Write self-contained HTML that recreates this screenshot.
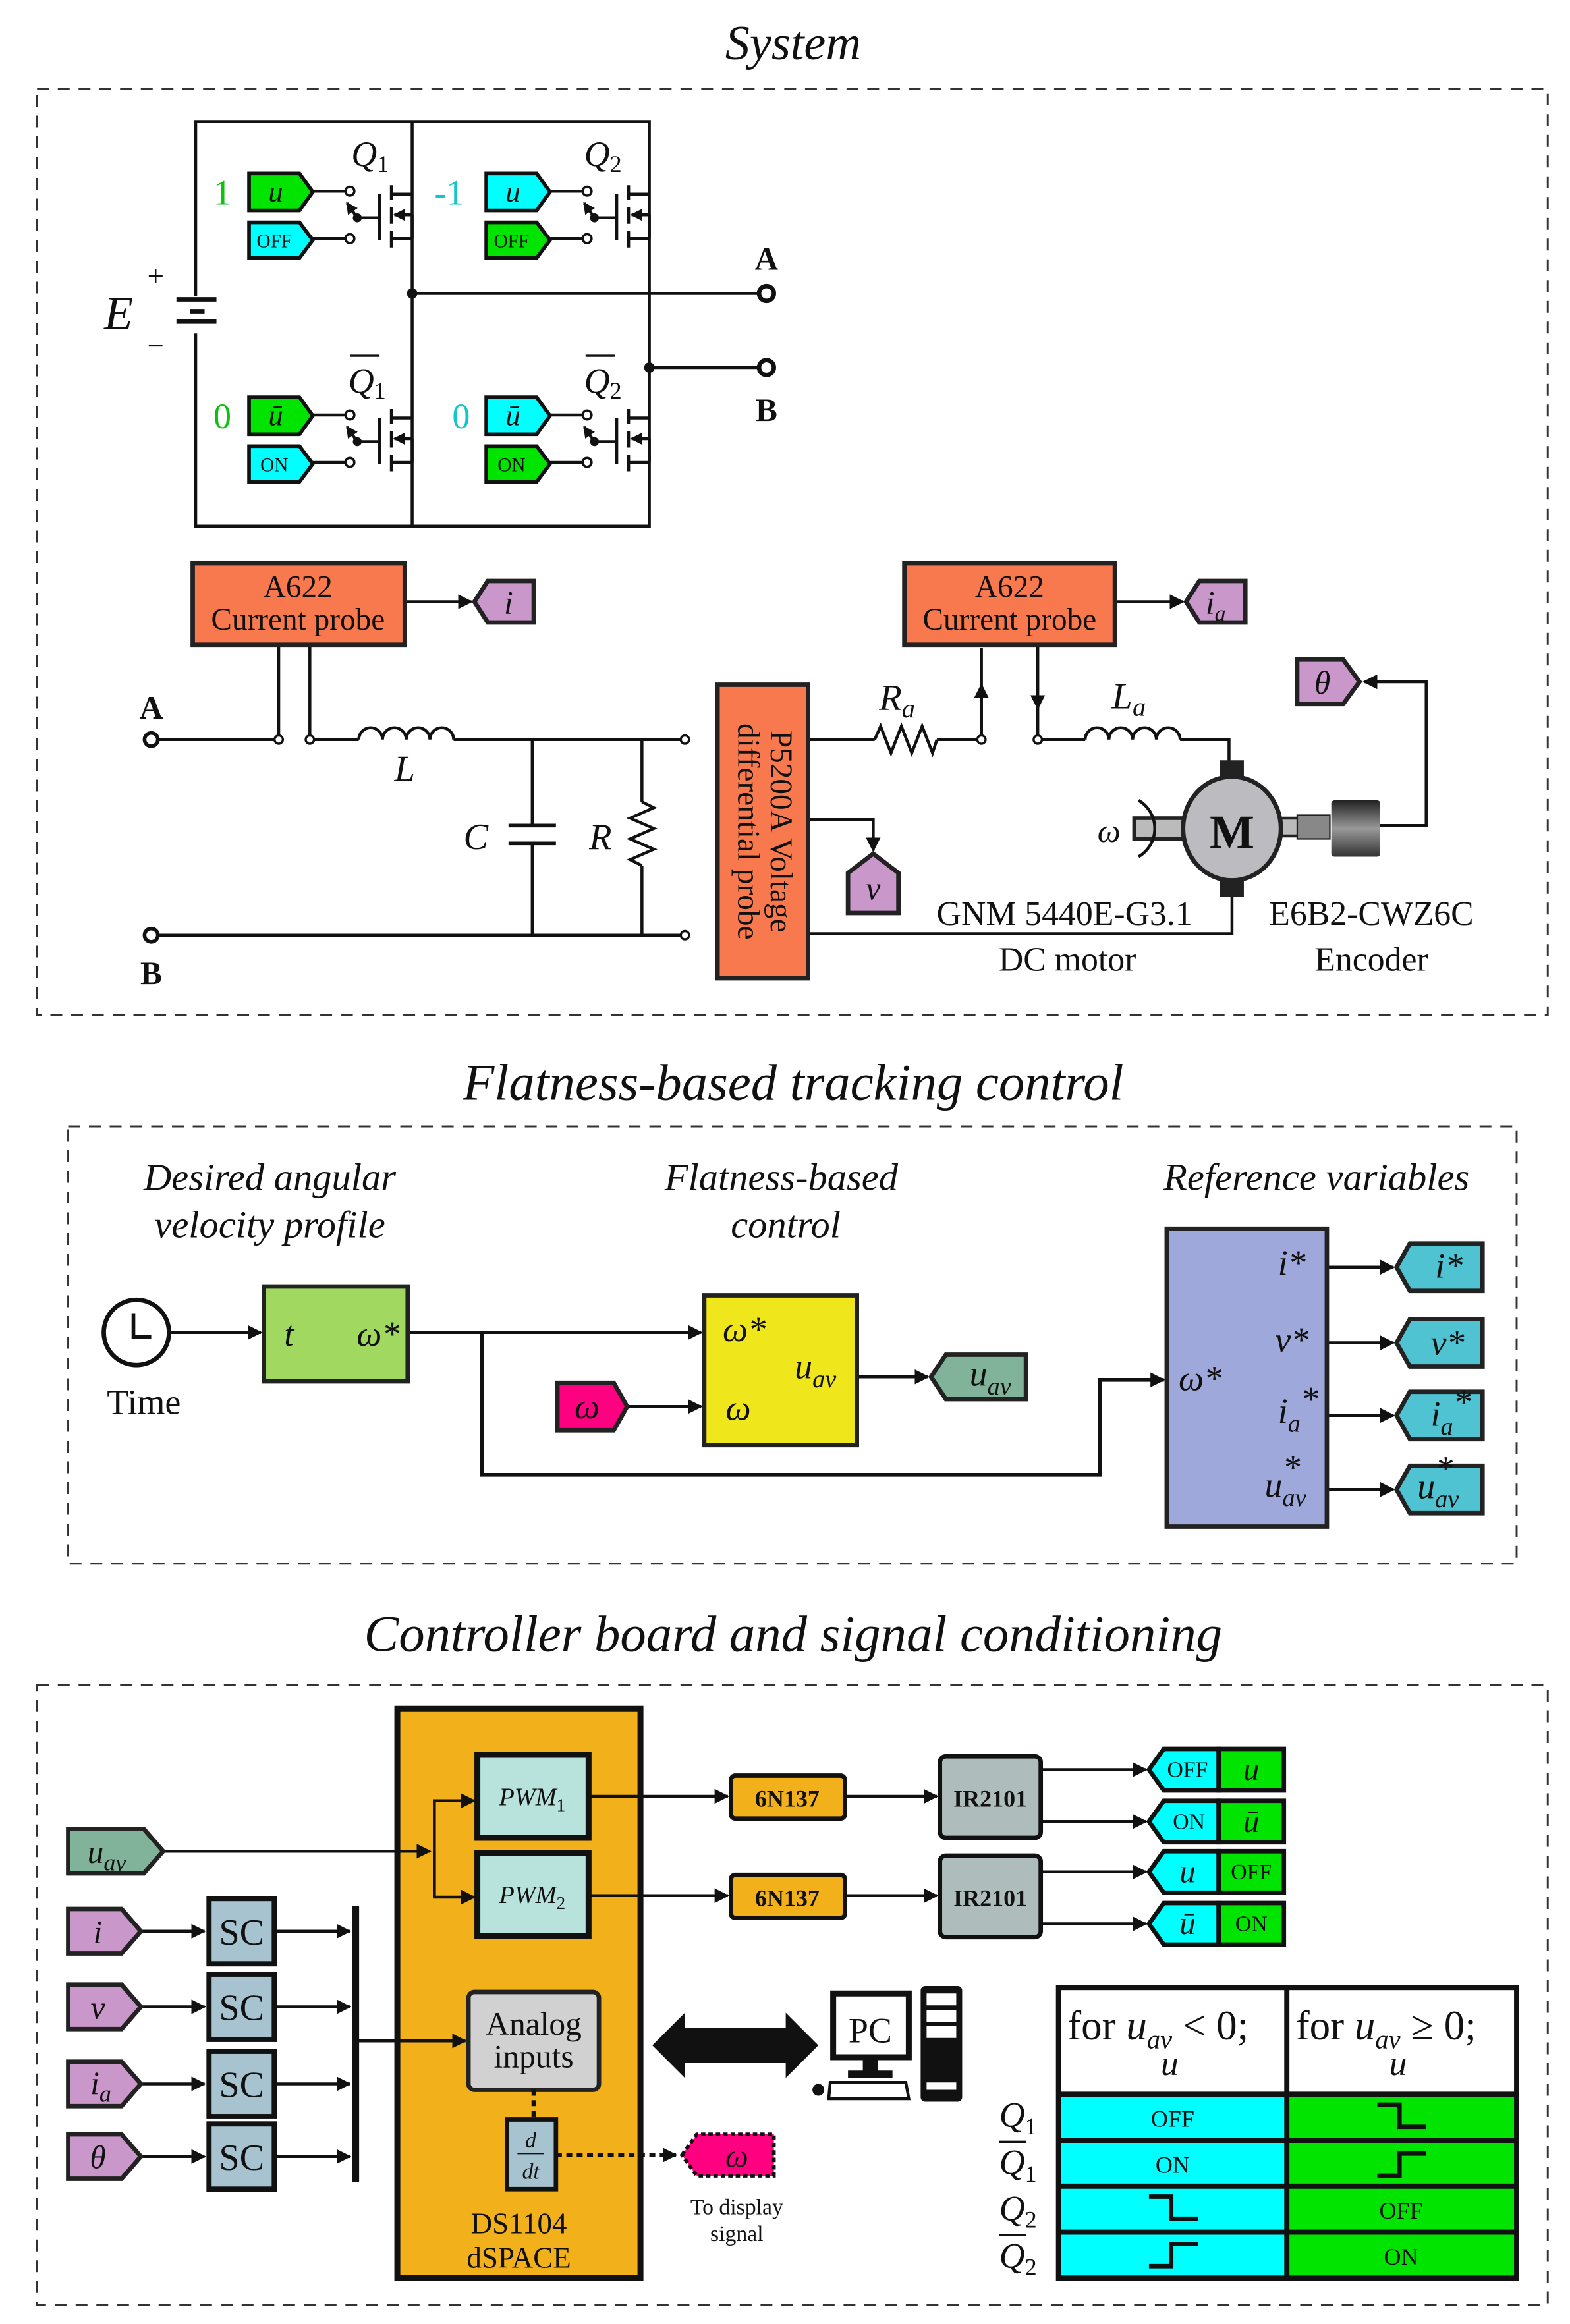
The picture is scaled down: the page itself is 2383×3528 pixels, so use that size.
<!DOCTYPE html>
<html><head><meta charset="utf-8"><style>
html,body{margin:0;padding:0;background:#fff}
svg{display:block}
text{font-family:"Liberation Serif",serif;fill:#111}
.it{font-style:italic}
.w{stroke:#111;stroke-width:2;fill:none}
</style></head><body>
<svg width="2383" height="3528" viewBox="0 0 1059 1568" preserveAspectRatio="none" xmlns="http://www.w3.org/2000/svg">
<defs>
<marker id="ah" markerWidth="10" markerHeight="10" refX="9" refY="5" orient="auto" markerUnits="userSpaceOnUse"><path d="M0,0 L10,5 L0,10 z" fill="#111"/></marker>
<marker id="ahs" markerWidth="8" markerHeight="8" refX="7" refY="4" orient="auto" markerUnits="userSpaceOnUse"><path d="M0,0 L8,4 L0,8 z" fill="#111"/></marker>
<g id="fet">
<line class="w" x1="211" y1="129" x2="233" y2="129"/>
<line class="w" x1="211" y1="161" x2="233" y2="161"/>
<circle cx="236" cy="129" r="3" fill="#fff" stroke="#111" stroke-width="1.6"/>
<circle cx="236" cy="161" r="3" fill="#fff" stroke="#111" stroke-width="1.6"/>
<circle cx="241" cy="147" r="3" fill="#111"/>
<line class="w" x1="241" y1="147" x2="256" y2="147"/>
<line class="w" x1="241" y1="147" x2="234" y2="137" marker-end="url(#ahs)"/>
<line class="w" x1="256" y1="131" x2="256" y2="162"/>
<line class="w" x1="264" y1="125" x2="264" y2="135"/>
<line class="w" x1="264" y1="140" x2="264" y2="151"/>
<line class="w" x1="264" y1="156" x2="264" y2="167"/>
<line class="w" x1="264" y1="131" x2="278" y2="131"/>
<line class="w" x1="264" y1="161" x2="278" y2="161"/>
<line class="w" x1="278" y1="145" x2="278" y2="161"/>
<line class="w" x1="278" y1="145" x2="266" y2="145" marker-end="url(#ahs)"/>
</g>
</defs>

<!-- SYSTEM -->
<text x="535" y="40" font-size="33" class="it" text-anchor="middle">System</text>
<rect x="25" y="60" width="1019" height="625" fill="none" stroke="#333" stroke-width="1.3" stroke-dasharray="8,6"/>

<g class="w" stroke-width="2.2">
<polyline points="132,200 132,82 438,82 438,355 132,355 132,225"/>
<line x1="278" y1="82" x2="278" y2="355"/>
<line x1="278" y1="198" x2="512" y2="198"/>
<line x1="438" y1="248" x2="512" y2="248"/>
</g>
<circle cx="278" cy="198" r="3.5" fill="#111"/>
<circle cx="438" cy="248" r="3.5" fill="#111"/>
<circle cx="517" cy="198" r="5" fill="#fff" stroke="#111" stroke-width="3"/>
<circle cx="517" cy="248" r="5" fill="#fff" stroke="#111" stroke-width="3"/>
<text x="517" y="182" font-size="22" font-weight="bold" text-anchor="middle">A</text>
<text x="517" y="284" font-size="22" font-weight="bold" text-anchor="middle">B</text>
<line x1="119" y1="202" x2="146" y2="202" stroke="#111" stroke-width="3"/>
<line x1="128" y1="210" x2="138" y2="210" stroke="#111" stroke-width="3"/>
<line x1="119" y1="217" x2="146" y2="217" stroke="#111" stroke-width="3"/>
<text x="80" y="222" font-size="32" class="it" text-anchor="middle">E</text>
<text x="105" y="193" font-size="20" text-anchor="middle">+</text>
<text x="105" y="240" font-size="20" text-anchor="middle">−</text>

<use href="#fet"/>
<use href="#fet" transform="translate(160,0)"/>
<use href="#fet" transform="translate(0,151)"/>
<use href="#fet" transform="translate(160,151)"/>

<g stroke="#111" stroke-width="2.5">
<polygon points="168,117 202,117 211,129.5 202,142 168,142" fill="#00e400"/>
<polygon points="168,150 202,150 211,162 202,174 168,174" fill="#00ffff"/>
<polygon points="328,117 362,117 371,129.5 362,142 328,142" fill="#00ffff"/>
<polygon points="328,150 362,150 371,162 362,174 328,174" fill="#00e400"/>
<polygon points="168,268 202,268 211,280.5 202,293 168,293" fill="#00e400"/>
<polygon points="168,301 202,301 211,313 202,325 168,325" fill="#00ffff"/>
<polygon points="328,268 362,268 371,280.5 362,293 328,293" fill="#00ffff"/>
<polygon points="328,301 362,301 371,313 362,325 328,325" fill="#00e400"/>
</g>
<g font-size="20" class="it" text-anchor="middle">
<text x="186" y="136">u</text><text x="346" y="136">u</text>
<text x="186" y="287">ū</text><text x="346" y="287">ū</text>
</g>
<g font-size="13" text-anchor="middle">
<text x="185" y="167">OFF</text><text x="345" y="167">OFF</text>
<text x="185" y="318">ON</text><text x="345" y="318">ON</text>
</g>
<text x="150" y="138" font-size="24" text-anchor="middle" style="fill:#10c010">1</text>
<text x="303" y="138" font-size="24" text-anchor="middle" style="fill:#10c8c8">-1</text>
<text x="150" y="289" font-size="24" text-anchor="middle" style="fill:#10c010">0</text>
<text x="311" y="289" font-size="24" text-anchor="middle" style="fill:#10c8c8">0</text>
<g font-size="24" class="it">
<text x="237" y="112">Q<tspan font-size="16" font-style="normal" dy="4">1</tspan></text>
<text x="394" y="112">Q<tspan font-size="16" font-style="normal" dy="4">2</tspan></text>
<text x="235" y="265">Q<tspan font-size="16" font-style="normal" dy="4">1</tspan></text>
<text x="394" y="265">Q<tspan font-size="16" font-style="normal" dy="4">2</tspan></text>
</g>
<line x1="236" y1="240" x2="256" y2="240" stroke="#111" stroke-width="1.5"/>
<line x1="395" y1="240" x2="415" y2="240" stroke="#111" stroke-width="1.5"/>

<!-- lower circuit -->
<circle cx="102" cy="499" r="4.5" fill="#fff" stroke="#111" stroke-width="2.5"/>
<circle cx="102" cy="631" r="4.5" fill="#fff" stroke="#111" stroke-width="2.5"/>
<text x="102" y="485" font-size="22" font-weight="bold" text-anchor="middle">A</text>
<text x="102" y="664" font-size="22" font-weight="bold" text-anchor="middle">B</text>
<g class="w">
<line x1="106" y1="499" x2="186" y2="499"/>
<line x1="212" y1="499" x2="242" y2="499"/>
<path d="M242,499 a8,8 0 0 1 16,0 a8,8 0 0 1 16,0 a8,8 0 0 1 16,0 a8,8 0 0 1 16,0"/>
<line x1="306" y1="499" x2="459" y2="499"/>
<line x1="188" y1="435" x2="188" y2="496"/>
<line x1="209" y1="435" x2="209" y2="496"/>
<line x1="359" y1="499" x2="359" y2="557"/>
<line x1="359" y1="569" x2="359" y2="631"/>
<line x1="433" y1="499" x2="433" y2="541"/>
<polyline points="433,541 441,545 425,552 441,559 425,566 441,573 425,580 433,584"/>
<line x1="433" y1="584" x2="433" y2="631"/>
<line x1="106" y1="631" x2="459" y2="631"/>
<line x1="545" y1="499" x2="590" y2="499"/>
<polyline points="590,499 594,490 601,508 608,490 615,508 622,490 629,508 632,499"/>
<line x1="632" y1="499" x2="659" y2="499"/>
<line x1="703" y1="499" x2="732" y2="499"/>
<path d="M732,499 a8,8 0 0 1 16,0 a8,8 0 0 1 16,0 a8,8 0 0 1 16,0 a8,8 0 0 1 16,0"/>
<polyline points="796,499 829,499 829,517"/>
<line x1="662" y1="496" x2="662" y2="437"/>
<line x1="662" y1="496" x2="662" y2="462" marker-end="url(#ah)"/>
<line x1="700" y1="435" x2="700" y2="478" marker-end="url(#ah)"/>
<line x1="700" y1="470" x2="700" y2="496"/>
<polyline points="831,603 831,630 545,630"/>
<polyline points="545,553 589,553 589,574" marker-end="url(#ah)"/>
<line x1="273" y1="406" x2="318" y2="406" marker-end="url(#ah)"/>
<line x1="752" y1="406" x2="798" y2="406" marker-end="url(#ah)"/>
<polyline points="930,557 962,557 962,460 920,460" marker-end="url(#ah)"/>
</g>
<line x1="343" y1="557" x2="375" y2="557" stroke="#111" stroke-width="2.5"/>
<line x1="343" y1="569" x2="375" y2="569" stroke="#111" stroke-width="2.5"/>
<circle cx="188" cy="499" r="2.8" fill="#fff" stroke="#111" stroke-width="1.5"/>
<circle cx="209" cy="499" r="2.8" fill="#fff" stroke="#111" stroke-width="1.5"/>
<circle cx="462" cy="499" r="2.8" fill="#fff" stroke="#111" stroke-width="1.5"/>
<circle cx="462" cy="631" r="2.8" fill="#fff" stroke="#111" stroke-width="1.5"/>
<circle cx="662" cy="499" r="2.8" fill="#fff" stroke="#111" stroke-width="1.5"/>
<circle cx="700" cy="499" r="2.8" fill="#fff" stroke="#111" stroke-width="1.5"/>
<text x="273" y="527" font-size="25" class="it" text-anchor="middle">L</text>
<text x="321" y="573" font-size="25" class="it" text-anchor="middle">C</text>
<text x="405" y="573" font-size="25" class="it" text-anchor="middle">R</text>
<text x="593" y="479" font-size="25" class="it">R<tspan font-size="18" dy="5">a</tspan></text>
<text x="750" y="478" font-size="25" class="it">L<tspan font-size="18" dy="5">a</tspan></text>

<rect x="130" y="380" width="143" height="55" fill="#f7794d" stroke="#222" stroke-width="3"/>
<text x="201" y="403" font-size="21" text-anchor="middle">A622</text>
<text x="201" y="425" font-size="21" text-anchor="middle">Current probe</text>
<rect x="610" y="380" width="142" height="55" fill="#f7794d" stroke="#222" stroke-width="3"/>
<text x="681" y="403" font-size="21" text-anchor="middle">A622</text>
<text x="681" y="425" font-size="21" text-anchor="middle">Current probe</text>
<rect x="484" y="462" width="61" height="198" fill="#f7794d" stroke="#222" stroke-width="3"/>
<text transform="translate(520,561) rotate(90)" font-size="21" text-anchor="middle">P5200A Voltage</text>
<text transform="translate(498,561) rotate(90)" font-size="21" text-anchor="middle">differential probe</text>

<g stroke="#222" stroke-width="3" fill="#c997c9">
<polygon points="320,406 329,392 360,392 360,420 329,420"/>
<polygon points="800,406 809,392 840,392 840,420 809,420"/>
<polygon points="875,445 906,445 917,460 906,475 875,475"/>
<polygon points="572,589 589,576 606,589 606,616 572,616"/>
</g>
<text x="343" y="414" font-size="22" class="it" text-anchor="middle">i</text>
<text x="820" y="414" font-size="22" class="it" text-anchor="middle">i<tspan font-size="15" dy="5">a</tspan></text>
<text x="892" y="468" font-size="22" class="it" text-anchor="middle">θ</text>
<text x="589" y="607" font-size="22" class="it" text-anchor="middle">v</text>

<!-- motor -->
<rect x="765" y="552" width="38" height="14" fill="#bbb" stroke="#222" stroke-width="2.5"/>
<rect x="860" y="552" width="16" height="12" fill="#bbb" stroke="#222" stroke-width="2"/>
<rect x="875" y="550" width="22" height="16" fill="#888" stroke="#222" stroke-width="1"/>
<rect x="823" y="513" width="16" height="14" fill="#222"/>
<rect x="823" y="591" width="16" height="14" fill="#222"/>
<ellipse cx="831" cy="559" rx="33" ry="35" fill="#bcbcc0" stroke="#222" stroke-width="3"/>
<text x="831" y="572" font-size="32" font-weight="bold" text-anchor="middle">M</text>
<defs><linearGradient id="enc" x1="0" y1="0" x2="0" y2="1"><stop offset="0" stop-color="#222"/><stop offset="0.5" stop-color="#999"/><stop offset="1" stop-color="#333"/></linearGradient></defs>
<rect x="898" y="540" width="33" height="38" fill="url(#enc)" rx="2"/>
<path d="M768,540 A22,22 0 0 1 768,578" class="w" stroke-width="2.5"/>
<text x="748" y="568" font-size="22" class="it" text-anchor="middle">ω</text>
<text x="718" y="624" font-size="23" text-anchor="middle">GNM 5440E-G3.1</text>
<text x="720" y="655" font-size="23" text-anchor="middle">DC motor</text>
<text x="925" y="624" font-size="23" text-anchor="middle">E6B2-CWZ6C</text>
<text x="925" y="655" font-size="23" text-anchor="middle">Encoder</text>

<!-- FLATNESS -->
<text x="535" y="742" font-size="35" class="it" text-anchor="middle">Flatness-based tracking control</text>
<rect x="46" y="760" width="977" height="295" fill="none" stroke="#333" stroke-width="1.3" stroke-dasharray="8,6"/>
<g font-size="26" class="it" text-anchor="middle">
<text x="182" y="803">Desired angular</text><text x="182" y="835">velocity profile</text>
<text x="527" y="803">Flatness-based</text><text x="530" y="835">control</text>
<text x="888" y="803">Reference variables</text>
</g>
<circle cx="92" cy="899" r="22" fill="#fff" stroke="#111" stroke-width="3"/>
<polyline points="90,886 90,902 102,902" fill="none" stroke="#111" stroke-width="2.5"/>
<text x="97" y="954" font-size="24" text-anchor="middle">Time</text>
<g class="w" stroke-width="3">
<line x1="114" y1="899" x2="176" y2="899" marker-end="url(#ah)"/>
<line x1="275" y1="899" x2="473" y2="899" marker-end="url(#ah)"/>
<polyline points="325,899 325,995 742,995 742,931 785,931" marker-end="url(#ah)" stroke-width="2.5"/>
<line x1="422" y1="949" x2="473" y2="949" marker-end="url(#ah)"/>
<line x1="578" y1="929" x2="626" y2="929" marker-end="url(#ah)"/>
<line x1="895" y1="855" x2="940" y2="855" marker-end="url(#ah)"/>
<line x1="895" y1="906" x2="940" y2="906" marker-end="url(#ah)"/>
<line x1="895" y1="955" x2="940" y2="955" marker-end="url(#ah)"/>
<line x1="895" y1="1005" x2="940" y2="1005" marker-end="url(#ah)"/>
</g>
<rect x="178" y="868" width="97" height="64" fill="#a1d960" stroke="#222" stroke-width="3"/>
<text x="195" y="908" font-size="24" class="it" text-anchor="middle">t</text>
<text x="255" y="908" font-size="24" class="it" text-anchor="middle">ω*</text>
<rect x="475" y="874" width="103" height="101" fill="#f0e61c" stroke="#222" stroke-width="3"/>
<text x="502" y="905" font-size="24" class="it" text-anchor="middle">ω*</text>
<text x="498" y="958" font-size="24" class="it" text-anchor="middle">ω</text>
<text x="550" y="930" font-size="24" class="it" text-anchor="middle">u<tspan font-size="17" dy="6">av</tspan></text>
<g stroke="#222" stroke-width="3">
<polygon points="376,933 414,933 423,949 414,965 376,965" fill="#ff0080"/>
<polygon points="628,929 638,914 692,914 692,944 638,944" fill="#80b39a"/>
<polygon points="942,855 951,839 1000,839 1000,871 951,871" fill="#4fc3d2"/>
<polygon points="942,906 951,890 1000,890 1000,922 951,922" fill="#4fc3d2"/>
<polygon points="942,955 951,939 1000,939 1000,971 951,971" fill="#4fc3d2"/>
<polygon points="942,1005 951,989 1000,989 1000,1021 951,1021" fill="#4fc3d2"/>
</g>
<rect x="787" y="829" width="108" height="201" fill="#9fa8da" stroke="#222" stroke-width="3"/>
<text x="396" y="957" font-size="24" class="it" text-anchor="middle">ω</text>
<text x="668" y="935" font-size="24" class="it" text-anchor="middle">u<tspan font-size="17" dy="6">av</tspan></text>
<g font-size="24" class="it">
<text x="795" y="938">ω*</text>
<text x="862" y="860">i*</text>
<text x="860" y="912">v*</text>
<text x="862" y="960">i<tspan font-size="17" dy="6">a</tspan><tspan dy="-14">*</tspan></text>
<text x="853" y="1010">u<tspan font-size="17" dy="6">av</tspan><tspan dx="-16" dy="-18">*</tspan></text>
<text x="968" y="862">i*</text>
<text x="965" y="914">v*</text>
<text x="965" y="962">i<tspan font-size="17" dy="6">a</tspan><tspan dy="-14">*</tspan></text>
<text x="956" y="1011">u<tspan font-size="17" dy="6">av</tspan><tspan dx="-16" dy="-18">*</tspan></text>
</g>

<!-- CONTROLLER -->
<text x="535" y="1114" font-size="35" class="it" text-anchor="middle">Controller board and signal conditioning</text>
<rect x="25" y="1137" width="1019" height="418" fill="none" stroke="#333" stroke-width="1.3" stroke-dasharray="8,6"/>
<rect x="268" y="1153" width="164" height="384" fill="#f2b11b" stroke="#111" stroke-width="4"/>
<rect x="322" y="1184" width="75" height="56" fill="#b8e2dc" stroke="#111" stroke-width="4"/>
<rect x="322" y="1250" width="75" height="56" fill="#b8e2dc" stroke="#111" stroke-width="4"/>
<text x="359" y="1218" font-size="17" class="it" text-anchor="middle">PWM<tspan font-size="12" font-style="normal" dy="4">1</tspan></text>
<text x="359" y="1284" font-size="17" class="it" text-anchor="middle">PWM<tspan font-size="12" font-style="normal" dy="4">2</tspan></text>
<rect x="316" y="1344" width="88" height="66" rx="4" fill="#d1d1d1" stroke="#222" stroke-width="3"/>
<text x="360" y="1373" font-size="22" text-anchor="middle">Analog</text>
<text x="360" y="1395" font-size="22" text-anchor="middle">inputs</text>
<rect x="342" y="1430" width="33" height="47" fill="#a6c3cf" stroke="#111" stroke-width="3"/>
<text x="358" y="1449" font-size="15" class="it" text-anchor="middle">d</text>
<line x1="349" y1="1453" x2="367" y2="1453" stroke="#111" stroke-width="1"/>
<text x="358" y="1470" font-size="15" class="it" text-anchor="middle">dt</text>
<text x="350" y="1507" font-size="20" text-anchor="middle">DS1104</text>
<text x="350" y="1530" font-size="20" text-anchor="middle">dSPACE</text>
<line x1="360" y1="1410" x2="360" y2="1430" stroke="#111" stroke-width="3" stroke-dasharray="4,3"/>
<line x1="375" y1="1454" x2="456" y2="1454" stroke="#111" stroke-width="3" stroke-dasharray="4,3" marker-end="url(#ah)"/>
<polygon points="460,1454 470,1440 522,1440 522,1468 470,1468" fill="#ff0080" stroke="#111" stroke-width="2.5" stroke-dasharray="3,2"/>
<text x="497" y="1462" font-size="22" class="it" text-anchor="middle">ω</text>
<text x="497" y="1494" font-size="15" text-anchor="middle">To display</text>
<text x="497" y="1512" font-size="15" text-anchor="middle">signal</text>

<g class="w" stroke-width="2.5">
<line x1="110" y1="1249" x2="290" y2="1249" marker-end="url(#ah)"/>
<polyline points="293,1280 293,1215 320,1215" marker-end="url(#ah)"/>
<polyline points="293,1249 293,1280 320,1280" marker-end="url(#ah)"/>
<line x1="95" y1="1303" x2="138" y2="1303" marker-end="url(#ah)"/>
<line x1="95" y1="1354" x2="138" y2="1354" marker-end="url(#ah)"/>
<line x1="95" y1="1406" x2="138" y2="1406" marker-end="url(#ah)"/>
<line x1="95" y1="1455" x2="138" y2="1455" marker-end="url(#ah)"/>
<line x1="185" y1="1303" x2="236" y2="1303" marker-end="url(#ah)"/>
<line x1="185" y1="1354" x2="236" y2="1354" marker-end="url(#ah)"/>
<line x1="185" y1="1406" x2="236" y2="1406" marker-end="url(#ah)"/>
<line x1="185" y1="1455" x2="236" y2="1455" marker-end="url(#ah)"/>
<line x1="240" y1="1377" x2="314" y2="1377" marker-end="url(#ah)"/>
<line x1="397" y1="1212" x2="491" y2="1212" marker-end="url(#ah)"/>
<line x1="397" y1="1279" x2="491" y2="1279" marker-end="url(#ah)"/>
<line x1="570" y1="1212" x2="632" y2="1212" marker-end="url(#ah)"/>
<line x1="570" y1="1279" x2="632" y2="1279" marker-end="url(#ah)"/>
<line x1="702" y1="1194" x2="773" y2="1194" marker-end="url(#ah)"/>
<line x1="702" y1="1229" x2="773" y2="1229" marker-end="url(#ah)"/>
<line x1="702" y1="1263" x2="773" y2="1263" marker-end="url(#ah)"/>
<line x1="702" y1="1298" x2="773" y2="1298" marker-end="url(#ah)"/>
</g>
<line x1="240" y1="1286" x2="240" y2="1472" stroke="#111" stroke-width="4.5"/>
<g stroke="#222" stroke-width="3">
<polygon points="46,1234 97,1234 110,1249 97,1264 46,1264" fill="#80b39a"/>
<polygon points="46,1288 82,1288 95,1303 82,1318 46,1318" fill="#c997c9"/>
<polygon points="46,1339 82,1339 95,1354 82,1369 46,1369" fill="#c997c9"/>
<polygon points="46,1391 82,1391 95,1406 82,1421 46,1421" fill="#c997c9"/>
<polygon points="46,1440 82,1440 95,1455 82,1470 46,1470" fill="#c997c9"/>
</g>
<text x="72" y="1257" font-size="22" class="it" text-anchor="middle">u<tspan font-size="16" dy="5">av</tspan></text>
<text x="66" y="1311" font-size="22" class="it" text-anchor="middle">i</text>
<text x="66" y="1362" font-size="22" class="it" text-anchor="middle">v</text>
<text x="68" y="1413" font-size="22" class="it" text-anchor="middle">i<tspan font-size="16" dy="5">a</tspan></text>
<text x="66" y="1463" font-size="22" class="it" text-anchor="middle">θ</text>
<g fill="#a6c3cf" stroke="#111" stroke-width="3.5">
<rect x="141" y="1281" width="44" height="44"/>
<rect x="141" y="1332" width="44" height="44"/>
<rect x="141" y="1384" width="44" height="44"/>
<rect x="141" y="1433" width="44" height="44"/>
</g>
<g font-size="25" text-anchor="middle">
<text x="163" y="1312">SC</text><text x="163" y="1363">SC</text><text x="163" y="1415">SC</text><text x="163" y="1464">SC</text>
</g>
<rect x="493" y="1198" width="77" height="29" rx="3" fill="#f2b11b" stroke="#111" stroke-width="3"/>
<rect x="493" y="1265" width="77" height="29" rx="3" fill="#f2b11b" stroke="#111" stroke-width="3"/>
<text x="531" y="1219" font-size="16" font-weight="bold" text-anchor="middle">6N137</text>
<text x="531" y="1286" font-size="16" font-weight="bold" text-anchor="middle">6N137</text>
<rect x="634" y="1185" width="68" height="55" rx="4" fill="#aebcbc" stroke="#111" stroke-width="3"/>
<rect x="634" y="1252" width="68" height="55" rx="4" fill="#aebcbc" stroke="#111" stroke-width="3"/>
<text x="668" y="1219" font-size="16" font-weight="bold" text-anchor="middle">IR2101</text>
<text x="668" y="1286" font-size="16" font-weight="bold" text-anchor="middle">IR2101</text>
<g stroke="#111" stroke-width="3">
<polygon points="775,1194 785,1180 822,1180 822,1208 785,1208" fill="#00ffff"/><rect x="822" y="1180" width="44" height="28" fill="#00e400"/>
<polygon points="775,1229 785,1215 822,1215 822,1243 785,1243" fill="#00ffff"/><rect x="822" y="1215" width="44" height="28" fill="#00e400"/>
<polygon points="775,1263 785,1249 822,1249 822,1277 785,1277" fill="#00ffff"/><rect x="822" y="1249" width="44" height="28" fill="#00e400"/>
<polygon points="775,1298 785,1284 822,1284 822,1312 785,1312" fill="#00ffff"/><rect x="822" y="1284" width="44" height="28" fill="#00e400"/>
</g>
<g font-size="15" text-anchor="middle">
<text x="801" y="1199">OFF</text><text x="802" y="1234">ON</text><text x="844" y="1268">OFF</text><text x="844" y="1303">ON</text>
</g>
<g font-size="22" class="it" text-anchor="middle">
<text x="844" y="1201">u</text><text x="844" y="1236">ū</text><text x="801" y="1270">u</text><text x="801" y="1305">ū</text>
</g>

<!-- PC -->
<polygon points="440,1380 462,1358 462,1368 530,1368 530,1358 552,1380 530,1402 530,1392 462,1392 462,1402" fill="#111"/>
<rect x="562" y="1345" width="51" height="43" fill="#fff" stroke="#111" stroke-width="4"/>
<text x="587" y="1378" font-size="24" text-anchor="middle">PC</text>
<rect x="582" y="1390" width="10" height="8" fill="#111"/>
<rect x="572" y="1397" width="30" height="5" fill="#111"/>
<polygon points="560,1405 611,1405 613,1416 559,1416" fill="#fff" stroke="#111" stroke-width="2"/>
<circle cx="552" cy="1410" r="4" fill="#111"/>
<rect x="621" y="1340" width="28" height="78" rx="3" fill="#111"/>
<rect x="625" y="1345" width="20" height="8" fill="#fff"/>
<rect x="625" y="1356" width="20" height="8" fill="#fff"/>
<rect x="625" y="1367" width="20" height="8" fill="#fff"/>
<rect x="625" y="1405" width="20" height="5" fill="#fff"/>

<!-- table -->
<rect x="714" y="1341" width="309" height="72" fill="#fff"/>
<rect x="714" y="1413" width="154" height="124" fill="#00ffff"/>
<rect x="868" y="1413" width="155" height="124" fill="#00e400"/>
<g stroke="#111" stroke-width="3.5" fill="none">
<rect x="714" y="1341" width="309" height="196"/>
<line x1="868" y1="1341" x2="868" y2="1537"/>
<line x1="714" y1="1413" x2="1023" y2="1413"/>
<line x1="714" y1="1444" x2="1023" y2="1444"/>
<line x1="714" y1="1475" x2="1023" y2="1475"/>
<line x1="714" y1="1506" x2="1023" y2="1506"/>
</g>
<text x="720" y="1376" font-size="28">for <tspan font-style="italic">u</tspan><tspan font-size="18" font-style="italic" dy="6">av</tspan><tspan dy="-6"> &lt; 0;</tspan></text>
<text x="874" y="1376" font-size="28">for <tspan font-style="italic">u</tspan><tspan font-size="18" font-style="italic" dy="6">av</tspan><tspan dy="-6"> ≥ 0;</tspan></text>
<text x="789" y="1400" font-size="24" class="it" text-anchor="middle">u</text>
<text x="943" y="1400" font-size="24" class="it" text-anchor="middle">u</text>
<g font-size="16" text-anchor="middle">
<text x="791" y="1435">OFF</text><text x="791" y="1466">ON</text>
<text x="945" y="1497">OFF</text><text x="945" y="1528">ON</text>
</g>
<g fill="none" stroke="#111" stroke-width="3">
<polyline points="929,1420 944,1420 944,1435 962,1435"/>
<polyline points="929,1468 944,1468 944,1453 962,1453"/>
<polyline points="775,1482 790,1482 790,1497 808,1497"/>
<polyline points="775,1529 790,1529 790,1514 808,1514"/>
</g>
<g font-size="24" class="it">
<text x="674" y="1435">Q<tspan font-size="16" font-style="normal" dy="5">1</tspan></text>
<text x="674" y="1467">Q<tspan font-size="16" font-style="normal" dy="5">1</tspan></text>
<text x="674" y="1498">Q<tspan font-size="16" font-style="normal" dy="5">2</tspan></text>
<text x="674" y="1530">Q<tspan font-size="16" font-style="normal" dy="5">2</tspan></text>
</g>
<line x1="674" y1="1445" x2="692" y2="1445" stroke="#111" stroke-width="1.5"/>
<line x1="674" y1="1508" x2="692" y2="1508" stroke="#111" stroke-width="1.5"/>
</svg>
</body></html>
